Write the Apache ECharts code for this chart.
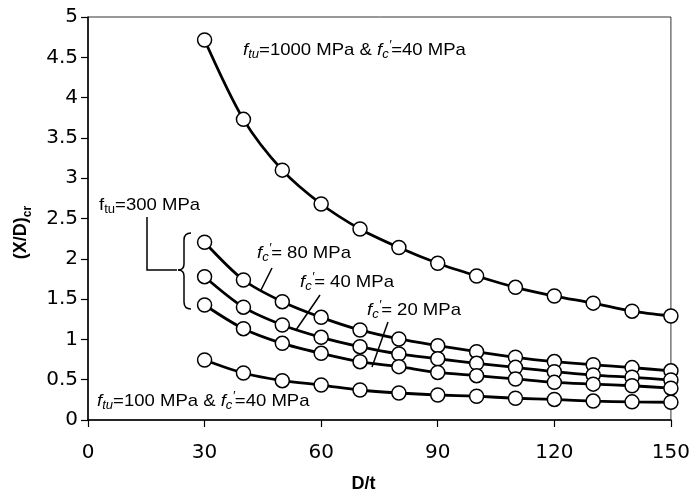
<!DOCTYPE html>
<html>
<head>
<meta charset="utf-8">
<script src="https://cdn.jsdelivr.net/npm/echarts@6/dist/echarts.min.js"></script>
<style>html,body{margin:0;padding:0;background:#fff;}#c{width:693px;height:500px;}</style>
</head>
<body>
<div id="c"></div>
<script>
// D/t values (x axis)
const dt = [30, 40, 50, 60, 70, 80, 90, 100, 110, 120, 130, 140, 150];
// (X/D)cr values
const fu1000_fc40 = [4.715, 3.73, 3.10, 2.68, 2.37, 2.14, 1.945, 1.787, 1.646, 1.538, 1.45, 1.35, 1.29];
const fu300_fc80  = [2.205, 1.737, 1.468, 1.274, 1.117, 1.005, 0.922, 0.848, 0.778, 0.725, 0.685, 0.65, 0.61];
const fu300_fc40  = [1.778, 1.40, 1.179, 1.026, 0.91, 0.819, 0.76, 0.703, 0.653, 0.60, 0.558, 0.53, 0.496];
const fu300_fc20  = [1.427, 1.133, 0.951, 0.827, 0.724, 0.662, 0.59, 0.55, 0.509, 0.467, 0.445, 0.425, 0.395];
const fu100_fc40  = [0.744, 0.583, 0.488, 0.434, 0.372, 0.335, 0.31, 0.295, 0.27, 0.255, 0.235, 0.225, 0.22];
const xTicks = [0, 30, 60, 90, 120, 150];
const yTicks = [0, 0.5, 1, 1.5, 2, 2.5, 3, 3.5, 4, 4.5, 5];

const seriesList = [fu1000_fc40, fu300_fc80, fu300_fc40, fu300_fc20, fu100_fc40];
const seriesNames = ['ftu=1000 MPa & fc\'=40 MPa', 'ftu=300 MPa, fc\'=80 MPa', 'ftu=300 MPa, fc\'=40 MPa', 'ftu=300 MPa, fc\'=20 MPa', 'ftu=100 MPa & fc\'=40 MPa'];

const chart = echarts.init(document.getElementById('c'), null, {renderer: 'canvas'});

const F = 'Liberation Sans, Arial, sans-serif';
const richAnno = {
  n:   {fontFamily: F, fontSize: 17, color: '#000', lineHeight: 24, verticalAlign: 'middle'},
  fi:  {fontFamily: F, fontSize: 17, fontStyle: 'italic', color: '#000', lineHeight: 24, verticalAlign: 'middle'},
  sub: {fontFamily: F, fontSize: 12, fontStyle: 'italic', color: '#000', lineHeight: 24, verticalAlign: 'bottom', padding: [0, 0, 1, 0]},
  subn:{fontFamily: F, fontSize: 12, color: '#000', lineHeight: 24, verticalAlign: 'bottom', padding: [0, 0, 1, 0]},
  sup: {fontFamily: F, fontSize: 12, fontStyle: 'italic', color: '#000', lineHeight: 24, verticalAlign: 'top', padding: [2, 0, 0, 0]}
};

function anno(x, y, text) {
  return {
    type: 'text', x: x, y: y, scaleX: 1.09, z: 100,
    style: {text: text, rich: richAnno, align: 'left', verticalAlign: 'middle', fill: '#000'}
  };
}
function seg(x1, y1, x2, y2) {
  return {type: 'line', z: 100, shape: {x1: x1, y1: y1, x2: x2, y2: y2}, style: {stroke: '#000', lineWidth: 1.5}};
}
function curve(x1, y1, cx, cy, x2, y2) {
  return {type: 'bezierCurve', z: 100, shape: {x1: x1, y1: y1, cpx1: cx, cpy1: cy, x2: x2, y2: y2}, style: {stroke: '#000', lineWidth: 1.5, fill: null}};
}

chart.setOption({
  animation: false,
  backgroundColor: '#fff',
  grid: {left: 88, right: 21, top: 17, bottom: 80, show: true, borderColor: '#333', borderWidth: 1, backgroundColor: 'transparent'},
  xAxis: {
    type: 'value', min: xTicks[0], max: xTicks[xTicks.length - 1], interval: xTicks[1] - xTicks[0],
    name: 'D/t', nameLocation: 'middle', nameGap: 55,
    nameTextStyle: {fontFamily: F, fontSize: 18, fontWeight: 'bold', color: '#000', padding: [0, 32, 0, 0]},
    axisLine: {show: true, onZero: false, lineStyle: {color: '#000', width: 1.5}},
    axisTick: {show: true, inside: false, length: 7, lineStyle: {color: '#000', width: 1.2}},
    axisLabel: {fontFamily: 'DejaVu Sans', fontSize: 20, color: '#000', margin: 23},
    splitLine: {show: false}
  },
  yAxis: {
    type: 'value', min: yTicks[0], max: yTicks[yTicks.length - 1], interval: yTicks[1] - yTicks[0],
    name: '{a|(X/D)}{b|cr}', nameLocation: 'middle', nameGap: 54, nameRotate: 90,
    nameTextStyle: {
      padding: [0, 28, 0, 0],
      rich: {
        a: {fontFamily: F, fontSize: 18, fontWeight: 'bold', color: '#000', lineHeight: 26, verticalAlign: 'middle'},
        b: {fontFamily: F, fontSize: 12, fontWeight: 'bold', color: '#000', lineHeight: 26, verticalAlign: 'bottom'}
      }
    },
    axisLine: {show: true, onZero: false, lineStyle: {color: '#000', width: 1.5}},
    axisTick: {show: true, inside: false, length: 7, lineStyle: {color: '#000', width: 1.2}},
    axisLabel: {fontFamily: 'DejaVu Sans', fontSize: 20, color: '#000', margin: 10,
      formatter: function (v) { return String(v); }},
    splitLine: {show: false}
  },
  series: seriesList.map(function (vals, i) {
    return {
      name: seriesNames[i], type: 'line', smooth: 0.3,
      data: dt.map(function (x, j) { return [x, vals[j]]; }),
      symbol: 'circle', symbolSize: 14, showAllSymbol: true,
      lineStyle: {color: '#000', width: 2.8},
      itemStyle: {color: '#fff', borderColor: '#000', borderWidth: 1.5}
    };
  }),
  graphic: [
    anno(243, 50, '{fi|f}{sub|tu}{n|=1000 MPa & }{fi|f}{sub|c}{sup|\u2032}{n|=40 MPa}'),
    anno(99, 205, '{n|f}{subn|tu}{n|=300 MPa}'),
    anno(97, 401, '{fi|f}{sub|tu}{n|=100 MPa & }{fi|f}{sub|c}{sup|\u2032}{n|=40 MPa}'),
    anno(257, 253, '{fi|f}{sub|c}{sup|\u2032}{n|= 80 MPa}'),
    anno(300, 282, '{fi|f}{sub|c}{sup|\u2032}{n|= 40 MPa}'),
    anno(367, 310, '{fi|f}{sub|c}{sup|\u2032}{n|= 20 MPa}'),
    seg(272, 268, 261, 290),
    seg(320, 295, 296, 330),
    seg(388, 322, 372, 367),
    {type: 'polyline', z: 100, shape: {points: [[147, 217], [147, 270], [177, 270]]}, style: {stroke: '#000', lineWidth: 1.5, fill: null}},
    curve(191, 233, 184, 233, 184, 240),
    seg(184, 240, 184, 264),
    curve(184, 264, 184, 270, 178, 270),
    curve(178, 270, 184, 270, 184, 276),
    seg(184, 276, 184, 302),
    curve(184, 302, 184, 309, 191, 309)
  ]
});
</script>
</body>
</html>
